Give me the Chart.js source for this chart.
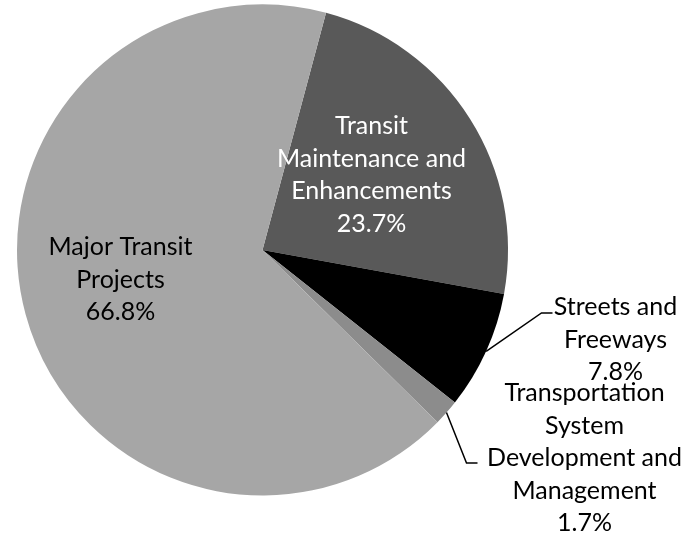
<!DOCTYPE html>
<html>
<head>
<meta charset="utf-8">
<script src="https://cdn.jsdelivr.net/npm/chart.js@4"></script>
<style>
  html, body { margin: 0; padding: 0; background: #fff; }
  #wrap { width: 686px; height: 540px; }
</style>
</head>
<body>
<div id="wrap"><canvas id="chart"></canvas></div>
<script>
// data
const categories = [
  ['Transit', 'Maintenance and', 'Enhancements'],
  ['Streets and', 'Freeways'],
  ['Transportation', 'System', 'Development and', 'Management'],
  ['Major Transit', 'Projects']
];
const shares = [23.7, 7.8, 1.7, 66.8];
const pctLabels = ['23.7%', '7.8%', '1.7%', '66.8%'];

// look
const colors = ['#595959', '#000000', '#8c8c8c', '#a6a6a6'];
const textColors = ['#ffffff', '#000000', '#000000', '#000000'];
// label block centre x and first-line y, relative to the pie centre
const labelPos = [[109, -124], [353, 57], [322, 143], [-142, -3]];
// leader elbow relative to pie centre (null = no leader)
const leaderElbow = [null, [279, 63], [204, 213], null];
const leaderEnd = [null, [290, 63], [215, 213], null];
const lineH = 32.5;
const font = '25px Lato';

const labelPlugin = {
  id: 'pieLabels',
  afterDatasetsDraw(chart) {
    const ctx = chart.ctx;
    const meta = chart.getDatasetMeta(0);
    ctx.save();
    meta.data.forEach((arc, i) => {
      const { x, y, startAngle, endAngle, outerRadius } = arc.getProps(['x', 'y', 'startAngle', 'endAngle', 'outerRadius'], true);
      if (leaderElbow[i]) {
        const mid = (startAngle + endAngle) / 2;
        ctx.beginPath();
        ctx.moveTo(x + Math.cos(mid) * outerRadius, y + Math.sin(mid) * outerRadius);
        ctx.lineTo(x + leaderElbow[i][0], y + leaderElbow[i][1]);
        ctx.lineTo(x + leaderEnd[i][0], y + leaderEnd[i][1]);
        ctx.strokeStyle = '#000';
        ctx.lineWidth = 1.5;
        ctx.stroke();
      }
      const lines = categories[i].concat([pctLabels[i]]);
      ctx.font = font;
      ctx.fillStyle = textColors[i];
      ctx.textAlign = 'center';
      ctx.textBaseline = 'middle';
      lines.forEach((t, k) => {
        ctx.fillText(t, x + labelPos[i][0], y + labelPos[i][1] + k * lineH);
      });
    });
    ctx.restore();
  }
};

new Chart(document.getElementById('chart'), {
  type: 'pie',
  data: {
    labels: categories.map(c => c.join(' ')),
    datasets: [{ data: shares, backgroundColor: colors, borderWidth: 0 }]
  },
  options: {
    responsive: true,
    maintainAspectRatio: false,
    animation: false,
    rotation: 15,
    layout: { padding: { left: 17, top: 4, right: 178, bottom: 44 } },
    plugins: { legend: { display: false }, tooltip: { enabled: false } }
  },
  plugins: [labelPlugin]
});
</script>
</body>
</html>
